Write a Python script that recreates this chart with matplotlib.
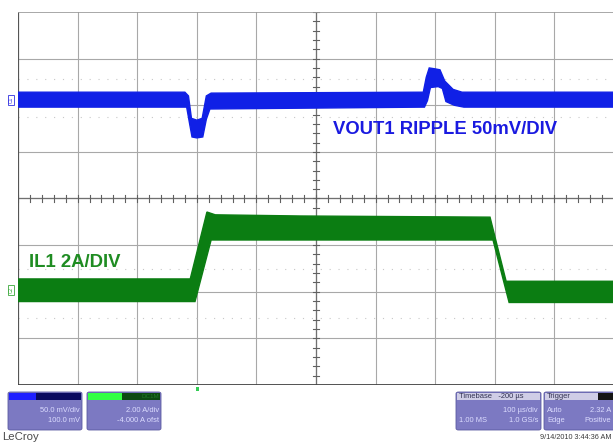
import numpy as np
import matplotlib
matplotlib.use("Agg")
import matplotlib.pyplot as plt
from matplotlib.patches import FancyBboxPatch, Rectangle

plt.rcParams['font.family'] = ['Liberation Sans', 'DejaVu Sans']

# ---------------- data (read from the scope screen) ----------------
# time axis: 10 divisions x 100 us/div
t_min, t_max = 0, 1000
# channel 1: VOUT1 ripple (mV, AC), 50 mV/div, 100 mV offset
c1_scale, c1_offset = 50.0, 100.0
c1_t_upper = [0, 280, 286, 291, 300, 309, 316, 324, 680, 685, 690, 700, 708, 716, 730, 745, 1000]
c1_upper   = [14, 14, 10, -14, -16, -14, 10, 13, 14, 30, 40, 39, 38, 26, 17, 14, 14]
c1_t_lower = [0, 283, 288, 292, 300, 310, 316, 322, 682, 687, 692, 705, 712, 718, 732, 748, 1000]
c1_lower   = [-2, -2, -20, -34, -35, -34, -15, -4, -2, 5, 19, 20, 18, 4, 0, -2, -2]
# channel 2: IL1 inductor current (A), 2 A/div, -4 A offset
c2_scale, c2_offset = 2.0, -4.0
c2_t_upper = [0, 289, 317, 331, 473, 792, 819, 1000]
c2_upper   = [0.55, 0.55, 3.42, 3.30, 3.25, 3.20, 0.45, 0.45]
c2_t_lower = [0, 297, 324, 797, 824, 1000]
c2_lower   = [-0.42, -0.42, 2.22, 2.22, -0.46, -0.46]

label_c1 = "VOUT1 RIPPLE 50mV/DIV"
label_c2 = "IL1 2A/DIV"
c1_info = ["50.0 mV/div", "100.0 mV"]
c2_info = ["2.00 A/div", "-4.000 A ofst"]
tb_info = ["Timebase   -200 \u00b5s", "100 \u00b5s/div", "1.00 MS", "1.0 GS/s"]
trig_info = ["Trigger", "Auto", "2.32 A", "Edge", "Positive"]
stamp = "9/14/2010 3:44:36 AM"

# ---------------- figure ----------------
W, H = 613, 443
fig = plt.figure(figsize=(W / 100, H / 100), dpi=100)
fig.patch.set_facecolor('white')

def fx(x):
    return x / W

def fy(y):
    return 1 - y / H

left_px, right_px, top_px, bot_px = 18, 614, 12, 385
ax = fig.add_axes([fx(left_px), fy(bot_px), (right_px - left_px) / W, (bot_px - top_px) / H])
ax.set_xlim(t_min, t_max)
ax.set_ylim(-4, 4)
ax.axis('off')

# graticule
grid_c = '#a8a8a8'
for xv in np.arange(100, 1000, 100):
    ax.axvline(xv, color=grid_c, lw=0.8, zorder=1)
for yv in np.arange(-3, 4, 1):
    ax.axhline(yv, color=grid_c, lw=0.8, zorder=1)
ax.axhline(0, color='#707070', lw=0.9, zorder=1)
ax.axvline(500, color='#707070', lw=0.9, zorder=1)
# center-line minor ticks
for yv in np.arange(-4, 4.01, 0.2):
    ax.plot([495, 505], [yv, yv], color='#606060', lw=0.8, zorder=1)
for xv in np.arange(0, 1000.1, 20):
    ax.plot([xv, xv], [-0.07, 0.07], color='#606060', lw=0.8, zorder=1)
# faint dotted rows
for yv in [(199 - 80) / 46.6, (199 - 118) / 46.6, (199 - 269) / 46.6, (199 - 318) / 46.6]:
    ax.axhline(yv, color='#c8c8c8', lw=0.8, ls=(0, (1, 7)), zorder=1)
# borders
ax.axvline(0, color='#555555', lw=1.6, zorder=2)
ax.axhline(-4, color='#444444', lw=1.3, zorder=2)
ax.axhline(4, color='#9a9a9a', lw=1.2, zorder=2)

# traces as envelope bands
def to_div(vals, scale, offset):
    return (np.asarray(vals, float) + offset) / scale

c1_poly_t = np.concatenate([c1_t_upper, c1_t_lower[::-1]])
c1_poly_y = np.concatenate([to_div(c1_upper, c1_scale, c1_offset),
                            to_div(c1_lower, c1_scale, c1_offset)[::-1]])
ax.fill(c1_poly_t, c1_poly_y, color='#1020e6', lw=1.0, ec='#1020e6', zorder=3)

c2_poly_t = np.concatenate([c2_t_upper, c2_t_lower[::-1]])
c2_poly_y = np.concatenate([to_div(c2_upper, c2_scale, c2_offset),
                            to_div(c2_lower, c2_scale, c2_offset)[::-1]])
ax.fill(c2_poly_t, c2_poly_y, color='#0b7d12', lw=1.0, ec='#0b7d12', zorder=3)

# annotations
ax.text((333 - 18) * 1000 / 596, (199 - 130.5) / 46.6, label_c1, color='#1a1ae0',
        fontsize=13.3, fontweight='bold', ha='left', va='center', zorder=4)
ax.text((29 - 18) * 1000 / 596, (199 - 262.5) / 46.6, label_c2, color='#1f8c22',
        fontsize=13.3, fontweight='bold', ha='left', va='center', zorder=4)

# channel markers on the left edge
for ypx, col, txt in [(100, '#3030e0', 'C1'), (290, '#3aa83a', 'C2')]:
    fig.patches.append(Rectangle((fx(8), fy(ypx + 5)), 6 / W, 10 / H, transform=fig.transFigure,
                                 fill=False, ec=col, lw=0.6))
    fig.text(fx(11), fy(ypx), txt, color=col, fontsize=3.5, rotation=90,
             ha='center', va='center')
# trigger position marker
fig.patches.append(Rectangle((fx(196), fy(391)), 3 / W, 4 / H, transform=fig.transFigure,
                             color='#33cc55', lw=0))

# ---------------- info boxes ----------------
body_c = '#7c79c2'
txt_c = '#dcdcff'

def box(x0, x1, y0, y1, hdr_split, hdr_left, hdr_right, hdr_h=7):
    fig.patches.append(FancyBboxPatch((fx(x0), fy(y1)), (x1 - x0) / W, (y1 - y0) / H,
                                      boxstyle='round,pad=0,rounding_size=0.004',
                                      transform=fig.transFigure, fc=body_c, ec='#5a58a0', lw=0.6))
    fig.patches.append(Rectangle((fx(x0 + 1), fy(y0 + 1 + hdr_h)), (hdr_split - x0 - 1) / W, hdr_h / H,
                                 transform=fig.transFigure, fc=hdr_left, ec='none'))
    fig.patches.append(Rectangle((fx(hdr_split), fy(y0 + 1 + hdr_h)), (x1 - 1 - hdr_split) / W, hdr_h / H,
                                 transform=fig.transFigure, fc=hdr_right, ec='none'))

fs = 5.4
box(8, 82, 392, 430, 36, '#1f1fff', '#0a0a60')
fig.text(fx(80), fy(411), c1_info[0], color=txt_c, fontsize=fs, ha='right', va='center')
fig.text(fx(80), fy(421), c1_info[1], color=txt_c, fontsize=fs, ha='right', va='center')

box(87, 161, 392, 430, 122, '#33ff44', '#0c4a12')
fig.text(fx(159), fy(396), 'DC1M', color='#1e7a25', fontsize=4.5, ha='right', va='center')
fig.text(fx(159), fy(411), c2_info[0], color=txt_c, fontsize=fs, ha='right', va='center')
fig.text(fx(159), fy(421), c2_info[1], color=txt_c, fontsize=fs, ha='right', va='center')

box(456, 541, 392, 430, 500, '#cfcde6', '#cfcde6')
fig.text(fx(459), fy(396.5), tb_info[0], color='#303050', fontsize=fs, ha='left', va='center')
fig.text(fx(538), fy(411), tb_info[1], color=txt_c, fontsize=fs, ha='right', va='center')
fig.text(fx(459), fy(421), tb_info[2], color=txt_c, fontsize=fs, ha='left', va='center')
fig.text(fx(538), fy(421), tb_info[3], color=txt_c, fontsize=fs, ha='right', va='center')

box(544, 630, 392, 430, 598, '#cfcde6', '#151515')
fig.text(fx(547), fy(396.5), trig_info[0], color='#303050', fontsize=fs, ha='left', va='center')
fig.text(fx(547), fy(411), trig_info[1], color=txt_c, fontsize=fs, ha='left', va='center')
fig.text(fx(611), fy(411), trig_info[2], color=txt_c, fontsize=fs, ha='right', va='center')
fig.text(fx(547), fy(421), trig_info[3], color=txt_c, fontsize=fs, ha='left', va='center')
fig.text(fx(611), fy(421), trig_info[4], color=txt_c, fontsize=fs, ha='right', va='center')

fig.text(fx(2), fy(437.5), 'LeCroy', color='#4a4a4a', fontsize=8.2, ha='left', va='center')
fig.text(fx(611), fy(437.5), stamp, color='#3a3a3a', fontsize=5.2, ha='right', va='center')

fig.savefig('out.png', dpi=100, facecolor='white')
